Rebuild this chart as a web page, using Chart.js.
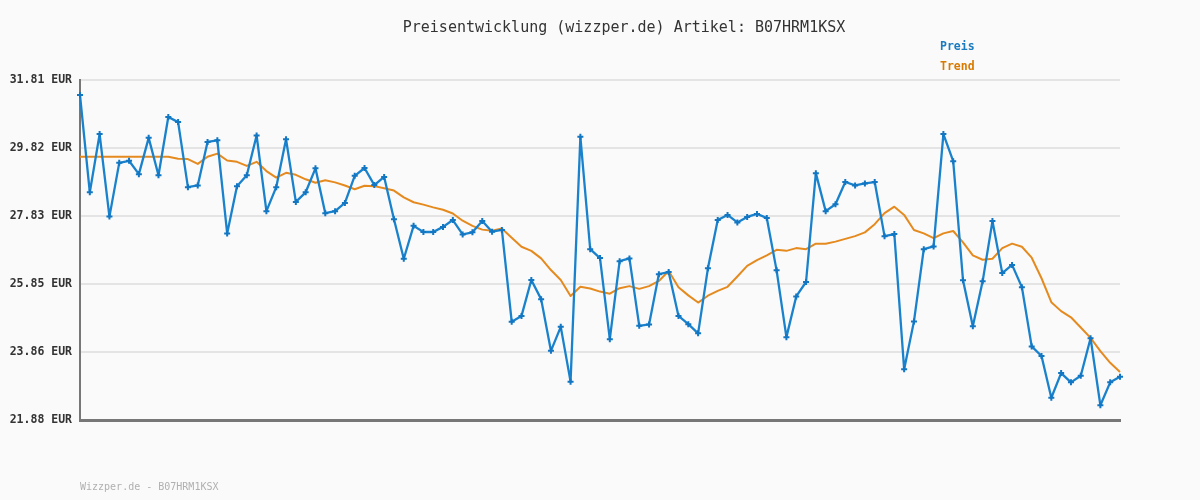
<!DOCTYPE html>
<html>
<head>
<meta charset="utf-8">
<script src="https://cdn.jsdelivr.net/npm/chart.js@4/dist/chart.umd.min.js"></script>
<style>
  html, body { margin: 0; padding: 0; background: #fafafa; }
  #wrap { width: 1200px; height: 500px; position: relative; }
</style>
</head>
<body>
<div id="wrap"><canvas id="preisChart"></canvas></div>
<script>
// ── DATA ─────────────────────────────────────────────────────
const preis = [
  31.37, 28.53, 30.23, 27.82, 29.39, 29.45, 29.06, 30.12, 29.03, 30.73,
  30.58, 28.68, 28.73, 30.00, 30.05, 27.33, 28.71, 29.03, 30.19, 27.98,
  28.68, 30.08, 28.25, 28.53, 29.23, 27.92, 27.98, 28.22, 29.01, 29.24,
  28.74, 28.98, 27.74, 26.59, 27.55, 27.37, 27.37, 27.52, 27.72, 27.30,
  27.36, 27.69, 27.38, 27.43, 24.75, 24.92, 25.97, 25.41, 23.90, 24.60,
  23.00, 30.15, 26.87, 26.61, 24.24, 26.52, 26.60, 24.63, 24.67, 26.14,
  26.20, 24.92, 24.68, 24.41, 26.31, 27.72, 27.87, 27.65, 27.81, 27.90,
  27.78, 26.25, 24.30, 25.49, 25.91, 29.09, 27.98, 28.18, 28.83, 28.73,
  28.79, 28.83, 27.25, 27.31, 23.36, 24.76, 26.87, 26.95, 30.23, 29.44,
  25.96, 24.62, 25.93, 27.69, 26.17, 26.41, 25.76, 24.03, 23.75, 22.53,
  23.25, 22.98, 23.17, 24.27, 22.31, 22.98, 23.14
];

const trend = [
  29.57, 29.57, 29.57, 29.57, 29.57, 29.57, 29.57, 29.57, 29.57, 29.57,
  29.51, 29.50, 29.36, 29.57, 29.66, 29.46, 29.42, 29.30, 29.42, 29.15,
  28.96, 29.10, 29.04, 28.91, 28.81, 28.88, 28.82, 28.73, 28.62, 28.72,
  28.71, 28.65, 28.58, 28.38, 28.24, 28.17, 28.09, 28.02, 27.91, 27.70,
  27.55, 27.44, 27.41, 27.47, 27.20, 26.94, 26.82, 26.60, 26.26, 25.97,
  25.50, 25.77, 25.72, 25.63, 25.57, 25.73, 25.79, 25.71, 25.79, 25.94,
  26.23, 25.76, 25.52, 25.31, 25.51, 25.65, 25.77, 26.07, 26.38, 26.55,
  26.69, 26.85, 26.82, 26.90, 26.87, 27.03, 27.03, 27.09, 27.17, 27.25,
  27.36, 27.60, 27.92, 28.11, 27.87, 27.43, 27.33, 27.19, 27.33, 27.40,
  27.07, 26.69, 26.56, 26.59, 26.90, 27.03, 26.94, 26.62, 26.02, 25.32,
  25.06, 24.88, 24.58, 24.28, 23.89, 23.55, 23.28
];

const yTicks = [21.88, 23.86, 25.85, 27.83, 29.82, 31.81];
const labels = preis.map((_, i) => i + 1);

const titel  = 'Preisentwicklung (wizzper.de) Artikel: B07HRM1KSX';
const footer = 'Wizzper.de - B07HRM1KSX';

/* ── STYLE ─────────────────────────────────────────────────── */
const BLAU   = '#1a82cc';
const ORANGE = '#e58a1f';
const MONO   = '"DejaVu Sans Mono", "Liberation Mono", monospace';

/* ── TEXT PLUGIN (title, legend, footer) ───────────────────── */
const textPlugin = {
  id: 'texte',
  afterDraw(chart) {
    const ctx = chart.ctx;
    ctx.save();
    ctx.textBaseline = 'middle';

    ctx.font = '15px ' + MONO;
    ctx.fillStyle = '#333';
    ctx.textAlign = 'center';
    ctx.fillText(titel, 624, 28);

    ctx.textAlign = 'left';
    ctx.font = 'bold 11.5px ' + MONO;
    ctx.fillStyle = '#1a7cc0';
    ctx.fillText('Preis', 940, 47);
    ctx.fillStyle = '#d97a00';
    ctx.fillText('Trend', 940, 67);

    ctx.font = '10px ' + MONO;
    ctx.fillStyle = '#b0b0b0';
    ctx.fillText(footer, 80, 487);
    ctx.restore();
  }
};

/* ── CHART ─────────────────────────────────────────────────── */
const ctx = document.getElementById('preisChart').getContext('2d');
new Chart(ctx, {
  type: 'line',
  data: {
    labels,
    datasets: [
      {
        label: 'Preis',
        data: preis,
        borderColor: BLAU,
        backgroundColor: BLAU,
        borderWidth: 2.3,
        borderJoinStyle: 'round',
        pointStyle: 'cross',
        pointRadius: 3,
        pointBorderWidth: 2,
        pointBorderColor: '#1276c2',
        tension: 0,
        order: 1,
      },
      {
        label: 'Trend',
        data: trend,
        borderColor: ORANGE,
        borderWidth: 2,
        borderJoinStyle: 'round',
        pointRadius: 0,
        tension: 0,
        order: 2,
      },
    ],
  },
  options: {
    responsive: true,
    maintainAspectRatio: false,
    animation: false,
    layout: { padding: { top: 80, right: 80, bottom: 80, left: 0 } },
    plugins: {
      legend: { display: false },
      tooltip: { enabled: false },
    },
    scales: {
      x: {
        type: 'category',
        offset: false,
        ticks: { display: false },
        grid: { display: false, drawTicks: false },
        border: { color: '#777', width: 3 },
        afterFit: s => { s.height = 0; },
      },
      y: {
        min: yTicks[0],
        max: yTicks[yTicks.length - 1],
        afterBuildTicks: s => { s.ticks = yTicks.map(v => ({ value: v })); },
        afterFit: s => { s.width = 80; },
        ticks: {
          padding: 8,
          color: '#333',
          font: { family: MONO, size: 11.5, weight: 'bold' },
          callback: v => v.toFixed(2) + ' EUR',
        },
        grid: { color: '#e4e4e4', lineWidth: 2, drawTicks: false },
        border: { color: '#777', width: 2 },
      },
    },
  },
  plugins: [textPlugin],
});
</script>
</body>
</html>
